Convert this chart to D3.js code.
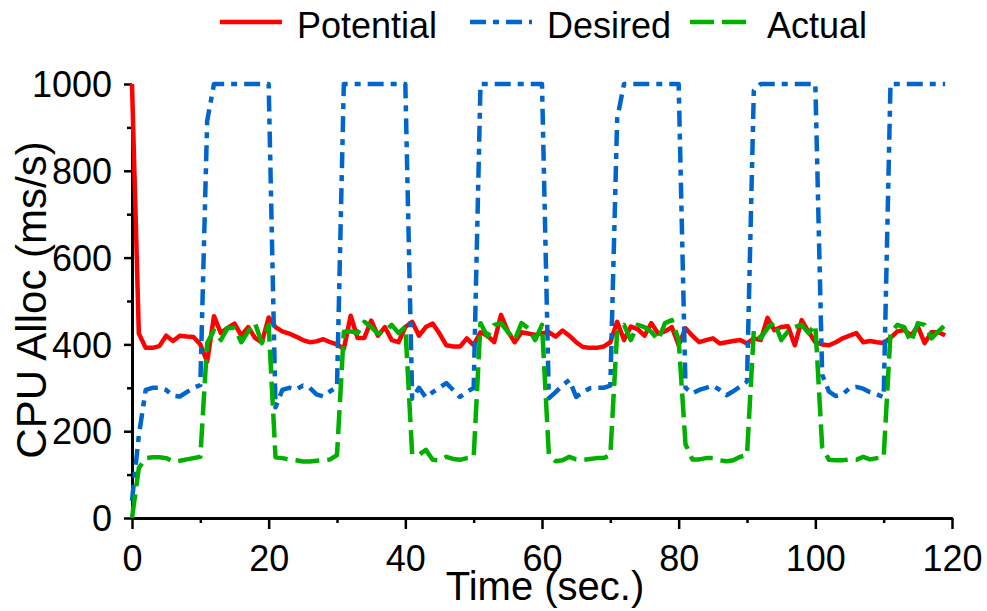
<!DOCTYPE html>
<html>
<head>
<meta charset="utf-8">
<script src="https://cdn.jsdelivr.net/npm/d3@7"></script>
<style>
  body { margin: 0; background: #fff; }
  svg { display: block; font-family: "Liberation Sans", Arial, Helvetica, sans-serif; }
  .axis path, .axis line { stroke: #000; }
</style>
</head>
<body>
<div class="graph"></div>
<script>
// one sample per second, t = 0 .. 119
var potential = [
  1000, 425, 392, 392, 396, 420, 408, 420, 418, 417,
  400, 360, 465, 426, 438, 448, 420, 440, 415, 405,
  462, 440, 430, 425, 418, 410, 405, 407, 412, 405,
  400, 390, 466, 415, 415, 455, 420, 440, 410, 405,
  440, 452, 420, 440, 448, 425, 398, 395, 395, 414,
  398, 428, 420, 405, 468, 430, 405, 428, 425, 422,
  426, 428, 418, 432, 420, 405, 394, 392, 392, 395,
  405, 452, 410, 441, 435, 420, 449, 425, 430, 440,
  398, 437, 420, 405, 410, 414, 402, 405, 408, 410,
  402, 414, 410, 461, 433, 440, 442, 398, 456, 429,
  405, 400, 398, 405, 414, 420, 426, 405, 408, 405,
  403, 415, 430, 433, 421, 441, 403, 428, 428, 421
];
var desired = [
  40, 190, 295, 300, 300, 295, 282, 280, 290, 300,
  306, 915, 1000, 1000, 1000, 1000, 1000, 1000, 1000, 1000,
  1000, 255, 295, 300, 296, 305, 300, 285, 280, 292,
  302, 1000, 1000, 1000, 1000, 1000, 1000, 1000, 1000, 1000,
  1000, 275, 300, 278, 290, 300, 311, 295, 279, 290,
  300, 1000, 1000, 1000, 1000, 1000, 1000, 1000, 1000, 1000,
  1000, 276, 290, 306, 318, 279, 290, 299, 300, 300,
  305, 920, 1000, 1000, 1000, 1000, 1000, 1000, 1000, 1000,
  1000, 300, 287, 295, 300, 305, 295, 283, 292, 303,
  315, 985, 1000, 1000, 1000, 1000, 1000, 1000, 1000, 1000,
  1000, 330, 291, 281, 285, 299, 302, 298, 290, 285,
  278, 1000, 1000, 1000, 1000, 1000, 1000, 1000, 1000, 1000
];
var actual = [
  0, 115, 138, 140, 140, 138, 130, 132, 135, 138,
  141, 403, 432, 410, 438, 438, 405, 430, 449, 403,
  445, 140, 138, 135, 133, 130, 130, 132, 133, 135,
  145, 429, 430, 426, 452, 440, 425, 430, 445, 426,
  441, 147, 146, 157, 134, 133, 141, 136, 134, 138,
  140, 449, 418, 445, 449, 429, 410, 449, 437, 410,
  445, 147, 131, 133, 141, 135, 134, 136, 138, 138,
  145, 430, 445, 410, 445, 440, 429, 410, 449, 456,
  410, 170, 135, 135, 138, 138, 133, 131, 133, 141,
  145, 433, 414, 437, 452, 410, 430, 440, 445, 426,
  445, 164, 134, 133, 133, 135, 134, 141, 135, 138,
  140, 426, 445, 440, 405, 449, 445, 414, 430, 445
];

var seriesNames = ["Potential", "Desired", "Actual"];
var xTicks = [0, 20, 40, 60, 80, 100, 120];
var xMinorTicks = [10, 30, 50, 70, 90, 110];
var yTicks = [0, 200, 400, 600, 800, 1000];
var yMinorTicks = [100, 300, 500, 700, 900];

var W = 987, H = 611;
var margin = { top: 84, right: 35, bottom: 93, left: 132 };

var x = d3.scaleLinear().domain([0, 120]).range([margin.left, W - margin.right]);
var y = d3.scaleLinear().domain([0, 1000]).range([H - margin.bottom, margin.top]);

var svg = d3.select(".graph").append("svg")
  .attr("width", W)
  .attr("height", H);

var styles = [
  { color: "#ff0000", dash: null },
  { color: "#0066cc", dash: "16,7,6,7" },
  { color: "#00b000", dash: "24,8" }
];

// axes
var xAxisG = svg.append("g").attr("class", "axis")
  .attr("transform", "translate(0," + y(0) + ")");
xAxisG.call(d3.axisBottom(x).tickValues(xMinorTicks).tickSize(5).tickSizeOuter(0).tickFormat(""));
xAxisG.append("g").call(d3.axisBottom(x).tickValues(xTicks).tickSize(11).tickSizeOuter(0).tickPadding(16).tickFormat(d3.format("d")));

var yAxisG = svg.append("g").attr("class", "axis")
  .attr("transform", "translate(" + x(0) + ",0)");
yAxisG.call(d3.axisLeft(y).tickValues(yMinorTicks).tickSize(5).tickSizeOuter(0).tickFormat(""));
yAxisG.append("g").call(d3.axisLeft(y).tickValues(yTicks).tickSize(8).tickSizeOuter(0).tickPadding(12).tickFormat(d3.format("d")));

svg.selectAll(".axis path").attr("stroke-width", 3);
svg.selectAll(".axis line").attr("stroke-width", 2.5);
svg.selectAll(".axis text")
  .attr("font-size", 36)
  .attr("fill", "#000")
  .attr("font-family", "'Liberation Sans', Arial, sans-serif");
yAxisG.selectAll("text").attr("dy", "0.35em");

// lines
var line = d3.line()
  .x(function(d, i) { return x(i); })
  .y(function(d) { return y(d); });

[potential, desired, actual].forEach(function(data, k) {
  svg.append("path")
    .datum(data)
    .attr("fill", "none")
    .attr("stroke", styles[k].color)
    .attr("stroke-width", 4.5)
    .attr("stroke-linejoin", "round")
    .attr("stroke-dasharray", styles[k].dash)
    .attr("d", line);
});

// axis titles
svg.append("text")
  .attr("x", 545)
  .attr("y", 600)
  .attr("text-anchor", "middle")
  .attr("font-size", 40)
  .text("Time (sec.)");

svg.append("text")
  .attr("transform", "translate(46,300) rotate(-90)")
  .attr("text-anchor", "middle")
  .attr("font-size", 42)
  .text("CPU Alloc (ms/s)");

// legend
var legendX = [220, 470, 690];
var legend = svg.append("g");
seriesNames.forEach(function(name, k) {
  legend.append("line")
    .attr("x1", legendX[k]).attr("x2", legendX[k] + 62)
    .attr("y1", 22).attr("y2", 22)
    .attr("stroke", styles[k].color)
    .attr("stroke-width", 4.5)
    .attr("stroke-dasharray", styles[k].dash);
  legend.append("text")
    .attr("x", legendX[k] + 77)
    .attr("y", 38)
    .attr("font-size", 36)
    .text(name);
});
</script>
</body>
</html>
